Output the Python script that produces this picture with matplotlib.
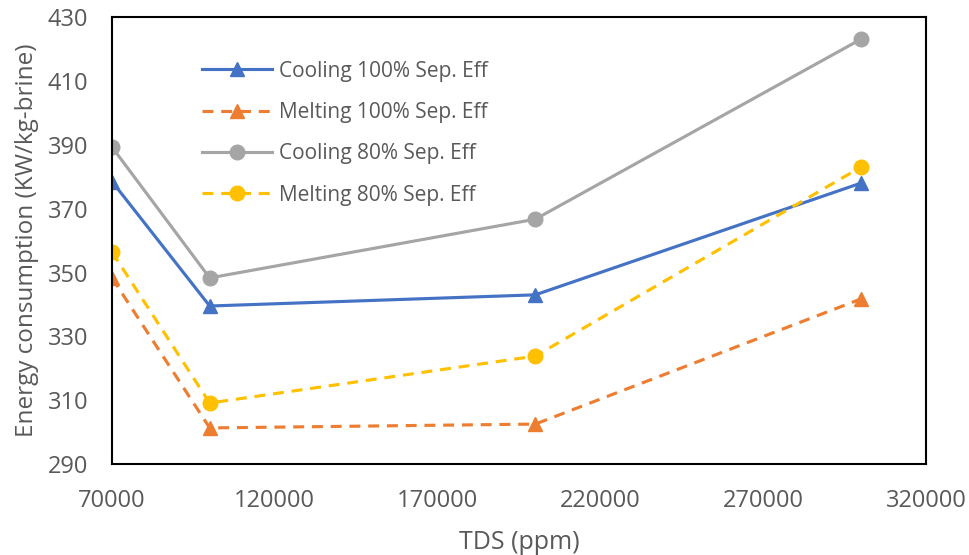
import matplotlib.pyplot as plt

# TDS values (ppm) and energy consumption for each case
tds = [70000, 100000, 200000, 300000]
cooling_100 = [378.5, 339.5, 343.0, 378.0]
melting_100 = [348.3, 301.3, 302.5, 341.7]
cooling_80 = [389.3, 348.3, 366.7, 423.1]
melting_80 = [356.4, 309.1, 323.8, 383.0]

x_ticks = [70000, 120000, 170000, 220000, 270000, 320000]
y_ticks = [290, 310, 330, 350, 370, 390, 410, 430]

plt.rcParams["font.family"] = ["Open Sans", "DejaVu Sans"]
text_color = "#595959"

fig = plt.figure(figsize=(9.69, 5.55), dpi=100)
ax = fig.add_axes([0.1156, 0.164, 0.84, 0.805])

ax.plot(tds, cooling_100, color="#4472C4", lw=2.25, marker="^", ms=10.5,
        label="Cooling 100% Sep. Eff")
ax.plot(tds, melting_100, color="#ED7D31", lw=2.25, marker="^", ms=10.5,
        dashes=(3.5, 2.5), label="Melting 100% Sep. Eff")
ax.plot(tds, cooling_80, color="#A5A5A5", lw=2.25, marker="o", ms=10.5,
        label="Cooling 80% Sep. Eff")
ax.plot(tds, melting_80, color="#FFC000", lw=2.25, marker="o", ms=10.5,
        dashes=(3.5, 2.5), label="Melting 80% Sep. Eff")

ax.set_xlim(70000, 320000)
ax.set_ylim(290, 430)
ax.set_xticks(x_ticks)
ax.set_yticks(y_ticks)
ax.tick_params(length=0, labelsize=17, labelcolor=text_color)
ax.tick_params(axis="y", pad=17)
ax.tick_params(axis="x", pad=18)
for s in ax.spines.values():
    s.set_linewidth(1.5)
    s.set_color("black")

ax.set_xlabel("TDS (ppm)", fontsize=18, color=text_color, labelpad=12)
ax.set_ylabel("Energy consumption (KW/kg-brine)", fontsize=17.5, color=text_color, labelpad=6)

leg = ax.legend(loc="upper left", bbox_to_anchor=(0.088, 0.945), frameon=False,
                fontsize=15, handlelength=3.36, handletextpad=0.33, labelspacing=0.98)
for t in leg.get_texts():
    t.set_color(text_color)

fig.savefig("out.png", dpi=100)
